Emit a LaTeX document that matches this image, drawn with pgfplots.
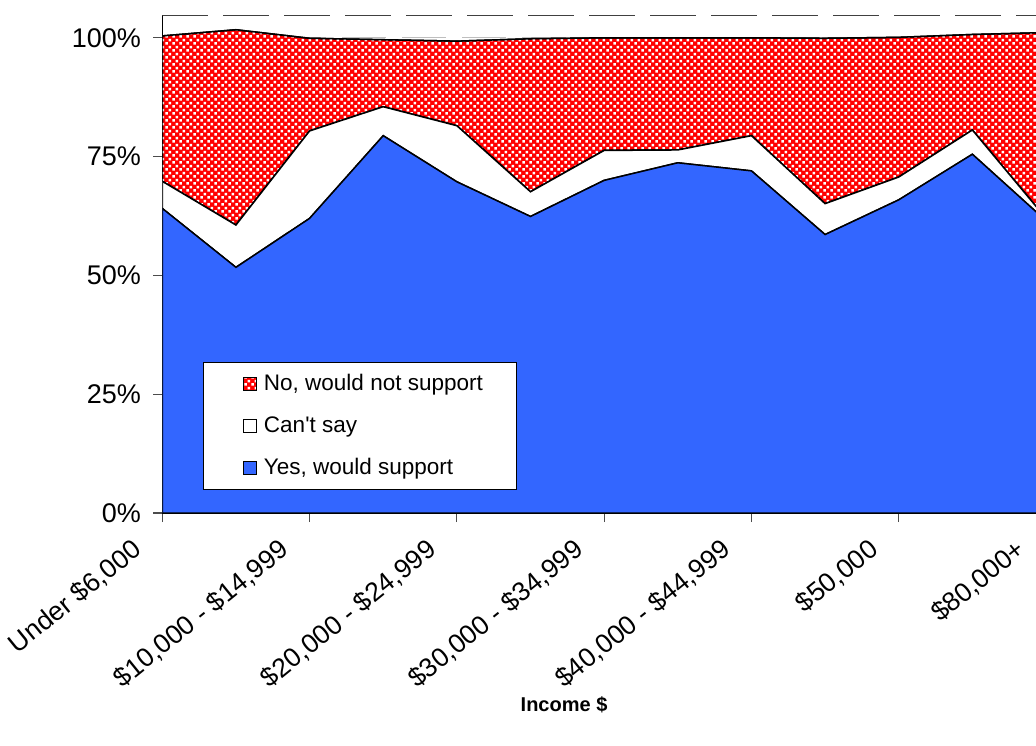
\documentclass[border=0pt]{standalone}
\usepackage{fontspec}
\setmainfont{Liberation Sans}
\usepackage{pgfplots}
\pgfplotsset{compat=1.18}
\usepackage{pgfplotstable}
\usetikzlibrary{patterns}

\definecolor{yesblue}{RGB}{51,102,255}
\definecolor{gridgray}{RGB}{190,190,190}

% small white squares laid over the red area
\pgfdeclarepatternformonly{whitesq}{\pgfpointorigin}{\pgfqpoint{3.6pt}{3.6pt}}{\pgfqpoint{3.6pt}{3.6pt}}{%
  \pgfpathrectangle{\pgfqpoint{0.2pt}{0.2pt}}{\pgfqpoint{1.4pt}{1.4pt}}%
  \pgfpathrectangle{\pgfqpoint{2.0pt}{2.0pt}}{\pgfqpoint{1.4pt}{1.4pt}}%
  \pgfusepath{fill}}

% support by income bracket, per cent of respondents
\pgfplotstableread{
k  yes   cant  no
0  64.1  5.7   30.6
1  51.7  8.9   41.1
2  62.0  18.4  19.5
3  79.4  6.1   14.1
4  69.7  11.8  17.8
5  62.4  5.2   32.2
6  70.0  6.3   23.7
7  73.7  2.7   23.6
8  72.0  7.4   20.6
9  58.6  6.5   34.8
10 65.9  4.8   29.4
11 75.5  5.1   20.1
12 61.5  0.5   39.1
}\supporttable

\begin{document}
\begin{tikzpicture}
\path[use as bounding box] (-81.15pt,-116pt) rectangle (436.85pt,256.5pt);
\clip (-81.15pt,-116pt) rectangle (436.85pt,256.5pt);
\begin{axis}[
  at={(0pt,0pt)}, anchor=south west,
  scale only axis,
  width=441.85pt, height=249pt,
  xmin=0, xmax=12, ymin=0, ymax=104.8,
  axis x line*=bottom, axis y line*=left,
  axis line style={black, line width=0.6pt},
  stack plots=y,
  xtick={0,2,...,12},
  xticklabels={{Under \$6,000},{\$10,000 - \$14,999},{\$20,000 - \$24,999},{\$30,000 - \$34,999},{\$40,000 - \$44,999},{\$50,000},{\$80,000+}},
  ytick={0,25,50,75,100},
  yticklabels={0\%,25\%,50\%,75\%,100\%},
  tick align=outside,
  major tick length=4.5pt,
  tick style={black!70, line width=0.6pt},
  ticklabel style={font=\fontsize{13.5}{16}\selectfont},
  xticklabel style={font=\fontsize{13.3}{15}\selectfont, xshift=-12pt, yshift=-12pt, rotate=39, anchor=east, inner sep=0pt},
  yticklabel style={inner sep=0pt, xshift=-6pt},
  ymajorgrids,
  grid style={gridgray, line width=0.6pt, dash pattern=on 22pt off 8pt},
  xlabel={\textbf{Income \$}},
  xlabel style={at={(axis description cs:0.4546,-0.3855)}, anchor=center, font=\fontsize{10}{12}\selectfont},
  reverse legend,
  legend cell align=left,
  legend image code/.code={%
    \path (0pt,0pt) (12.6pt,0pt);
    \draw[#1, draw=black, line width=0.5pt] (4.5pt,-3.3pt) rectangle (11.1pt,3.3pt);},
  legend style={at={(axis description cs:0.0457,0.3038)}, anchor=north west,
    draw=black, line width=0.6pt, fill=white, inner xsep=15pt, inner ysep=4pt,
    row sep=7.5pt, font=\fontsize{11.25}{13}\selectfont},
]
\addplot[draw=black, line width=0.75pt, fill=yesblue] table[x=k, y=yes] {\supporttable} \closedcycle;
\addlegendentry{Yes, would support}
\addplot[draw=black, line width=0.75pt, fill=white] table[x=k, y=cant] {\supporttable} \closedcycle;
\addlegendentry{Can\textquotesingle t say}
\addplot[draw=black, line width=0.75pt, fill=red, postaction={pattern=whitesq, pattern color=white}] table[x=k, y=no] {\supporttable} \closedcycle;
\addlegendentry{No, would not support}
\draw[black!75, line width=0.6pt, dash pattern=on 23pt off 7.5pt] (rel axis cs:0,1) -- (rel axis cs:1,1);
\end{axis}
\end{tikzpicture}
\end{document}
